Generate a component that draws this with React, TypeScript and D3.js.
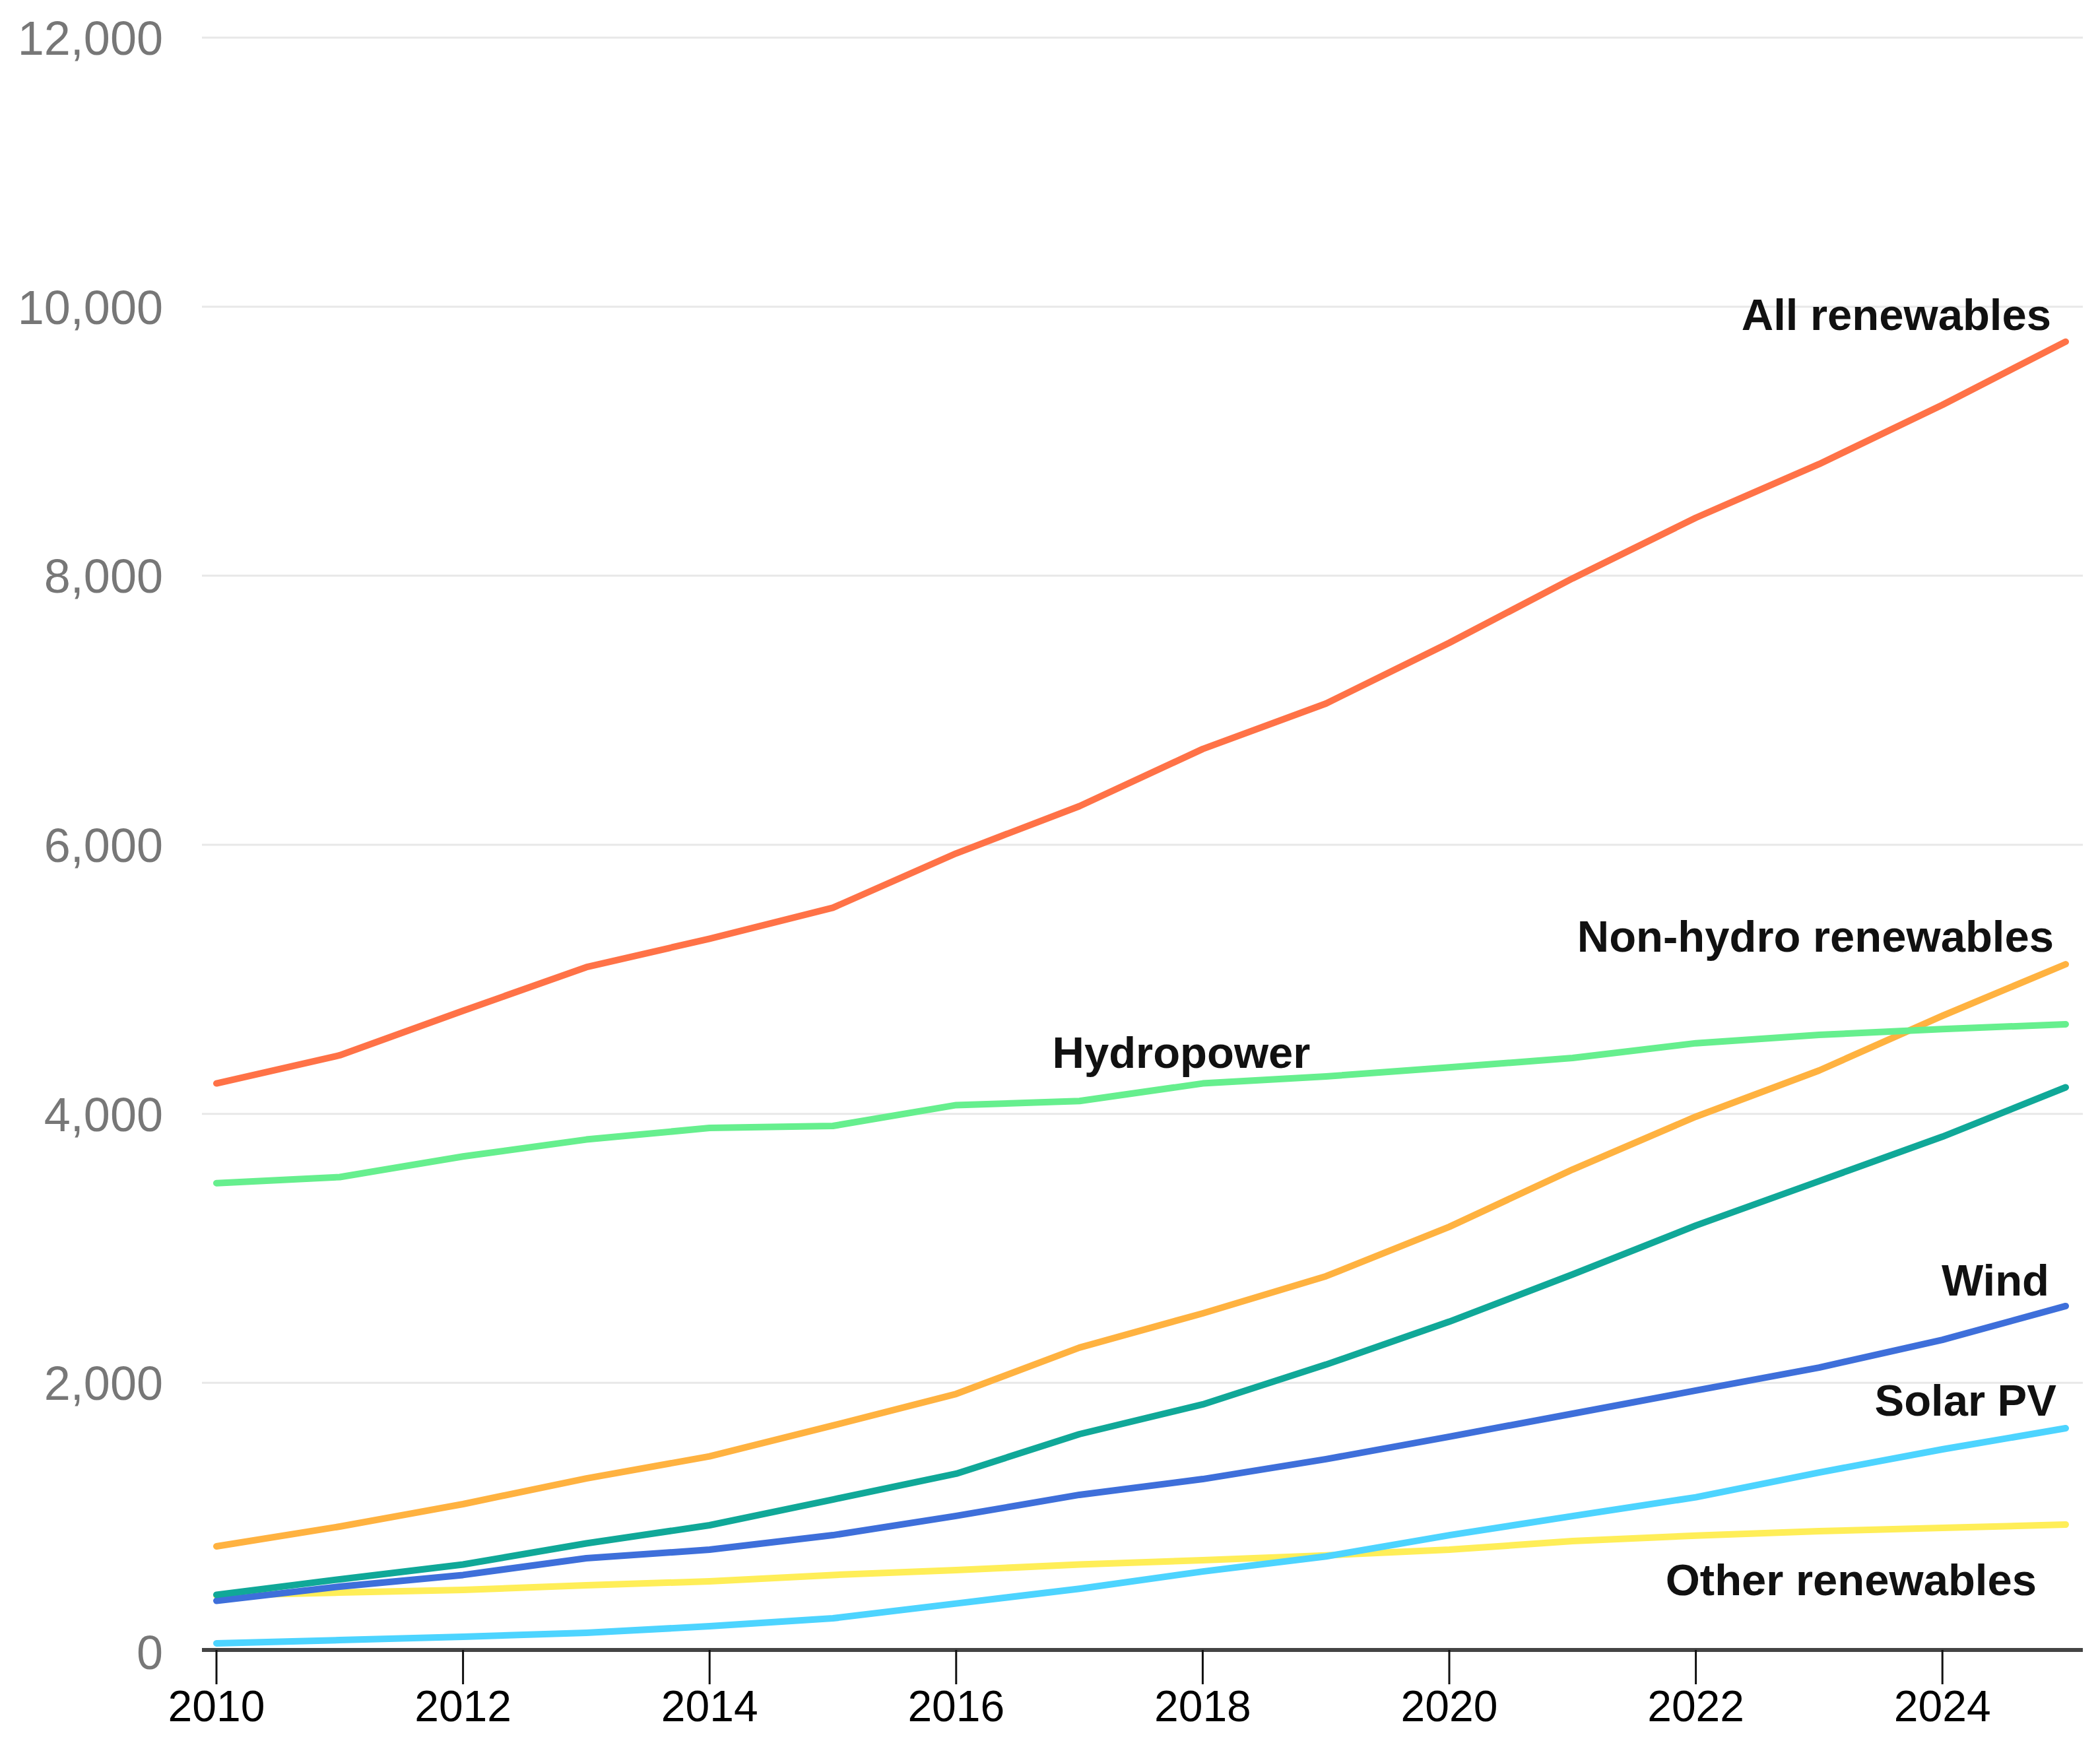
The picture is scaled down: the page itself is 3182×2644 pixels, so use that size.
import React, { useEffect, useRef } from 'react';
import * as d3 from 'd3';

const years = [2010, 2011, 2012, 2013, 2014, 2015, 2016, 2017, 2018, 2019, 2020, 2021, 2022, 2023, 2024, 2025];

const allRenewables = [4226, 4435, 4766, 5090, 5302, 5532, 5936, 6287, 6712, 7050, 7501, 7980, 8431, 8830, 9270, 9740];
const hydropower = [3485, 3530, 3683, 3809, 3895, 3910, 4065, 4095, 4226, 4278, 4345, 4415, 4525, 4587, 4630, 4666];
const nonHydro = [785, 932, 1099, 1290, 1454, 1683, 1918, 2262, 2517, 2793, 3160, 3586, 3979, 4322, 4729, 5112];
const windAndSolar = [425, 540, 650, 807, 942, 1133, 1325, 1619, 1840, 2136, 2455, 2806, 3170, 3500, 3830, 4197];
const wind = [380, 486, 572, 697, 760, 868, 1011, 1168, 1285, 1433, 1600, 1771, 1943, 2114, 2320, 2571];
const solarPV = [64, 88, 113, 142, 191, 250, 360, 470, 598, 710, 868, 1010, 1150, 1334, 1506, 1663];
const otherRenewables = [420, 441, 461, 495, 525, 572, 608, 650, 682, 718, 760, 824, 865, 898, 922, 947];

const yTicks = [0, 2000, 4000, 6000, 8000, 10000, 12000];
const xTicks = [2010, 2012, 2014, 2016, 2018, 2020, 2022, 2024];

interface Series {
  name: string;
  values: number[];
  color: string;
}

const series: Series[] = [
  { name: 'Other renewables', values: otherRenewables, color: '#ffee58' },
  { name: 'Solar PV', values: solarPV, color: '#4dd4ff' },
  { name: 'Wind', values: wind, color: '#3e6fda' },
  { name: 'Wind and solar PV', values: windAndSolar, color: '#10a898' },
  { name: 'Non-hydro renewables', values: nonHydro, color: '#ffb240' },
  { name: 'Hydropower', values: hydropower, color: '#66ef8e' },
  { name: 'All renewables', values: allRenewables, color: '#ff7247' },
];

const WIDTH = 3182;
const HEIGHT = 2644;
const FONT = '"Liberation Sans", Arial, Helvetica, sans-serif';

const App: React.FC = () => {
  const svgRef = useRef<SVGSVGElement>(null);

  useEffect(() => {
    if (!svgRef.current) return;
    const svg = d3.select(svgRef.current);
    svg.selectAll('*').remove();

    const x = d3.scaleLinear().domain([2010, 2025]).range([328, 3130]);
    const y = d3.scaleLinear().domain([0, 12000]).range([2503, 57]);

    const gridLeft = 306;
    const gridRight = 3156;

    // Grid lines
    svg.append('g')
      .selectAll('line')
      .data(yTicks.filter(t => t > 0))
      .join('line')
      .attr('x1', gridLeft)
      .attr('x2', gridRight)
      .attr('y1', d => y(d))
      .attr('y2', d => y(d))
      .attr('stroke', '#e8e8e8')
      .attr('stroke-width', 3);

    // Y labels
    svg.append('g')
      .selectAll('text')
      .data(yTicks)
      .join('text')
      .attr('x', 247)
      .attr('y', d => y(d))
      .attr('dy', '0.36em')
      .attr('text-anchor', 'end')
      .style('font-family', FONT)
      .style('font-size', '72px')
      .style('fill', '#777777')
      .text(d => d3.format(',')(d));

    // Lines
    const line = d3.line<number>()
      .x((_, i) => x(years[i]))
      .y(d => y(d))
      .curve(d3.curveLinear);

    svg.append('g')
      .selectAll('path')
      .data(series)
      .join('path')
      .attr('d', d => line(d.values) || '')
      .attr('fill', 'none')
      .attr('stroke', d => d.color)
      .attr('stroke-width', 10)
      .attr('stroke-linejoin', 'round')
      .attr('stroke-linecap', 'round');

    // X axis
    const axisY = y(0) - 3;
    svg.append('line')
      .attr('x1', gridLeft)
      .attr('x2', gridRight)
      .attr('y1', axisY)
      .attr('y2', axisY)
      .attr('stroke', '#444444')
      .attr('stroke-width', 6);

    const xg = svg.append('g');
    xg.selectAll('line')
      .data(xTicks)
      .join('line')
      .attr('x1', d => x(d))
      .attr('x2', d => x(d))
      .attr('y1', axisY)
      .attr('y2', axisY + 52)
      .attr('stroke', '#111111')
      .attr('stroke-width', 3);

    xg.selectAll('text')
      .data(xTicks)
      .join('text')
      .attr('x', d => x(d))
      .attr('y', axisY + 108)
      .attr('text-anchor', 'middle')
      .style('font-family', FONT)
      .style('font-size', '66px')
      .style('fill', '#000000')
      .text(d => String(d));

    // Series labels
    const last = (v: number[]) => v[v.length - 1];
    const labels = [
      { text: 'All renewables', x: x(2025) - 22, y: y(last(allRenewables)) - 18, anchor: 'end' },
      { text: 'Non-hydro renewables', x: x(2025) - 18, y: y(last(nonHydro)) - 19, anchor: 'end' },
      { text: 'Hydropower', x: x(2016.78), y: y(hydropower[7]) - 50, anchor: 'start' },
      { text: 'Wind', x: x(2025) - 25, y: y(last(wind)) - 16, anchor: 'end' },
      { text: 'Solar PV', x: x(2025) - 14, y: y(last(solarPV)) - 19, anchor: 'end' },
      { text: 'Other renewables', x: x(2025) - 44, y: y(last(otherRenewables)) + 107, anchor: 'end' },
    ];

    svg.append('g')
      .selectAll('text')
      .data(labels)
      .join('text')
      .attr('x', d => d.x)
      .attr('y', d => d.y)
      .attr('text-anchor', d => d.anchor)
      .style('font-family', FONT)
      .style('font-size', '67px')
      .style('font-weight', 'bold')
      .style('fill', '#111111')
      .text(d => d.text);
  }, []);

  return (
    <svg
      ref={svgRef}
      width={WIDTH}
      height={HEIGHT}
      viewBox={`0 0 ${WIDTH} ${HEIGHT}`}
      style={{ position: 'absolute', left: 0, top: 0, background: '#ffffff' }}
    />
  );
};

export default App;
